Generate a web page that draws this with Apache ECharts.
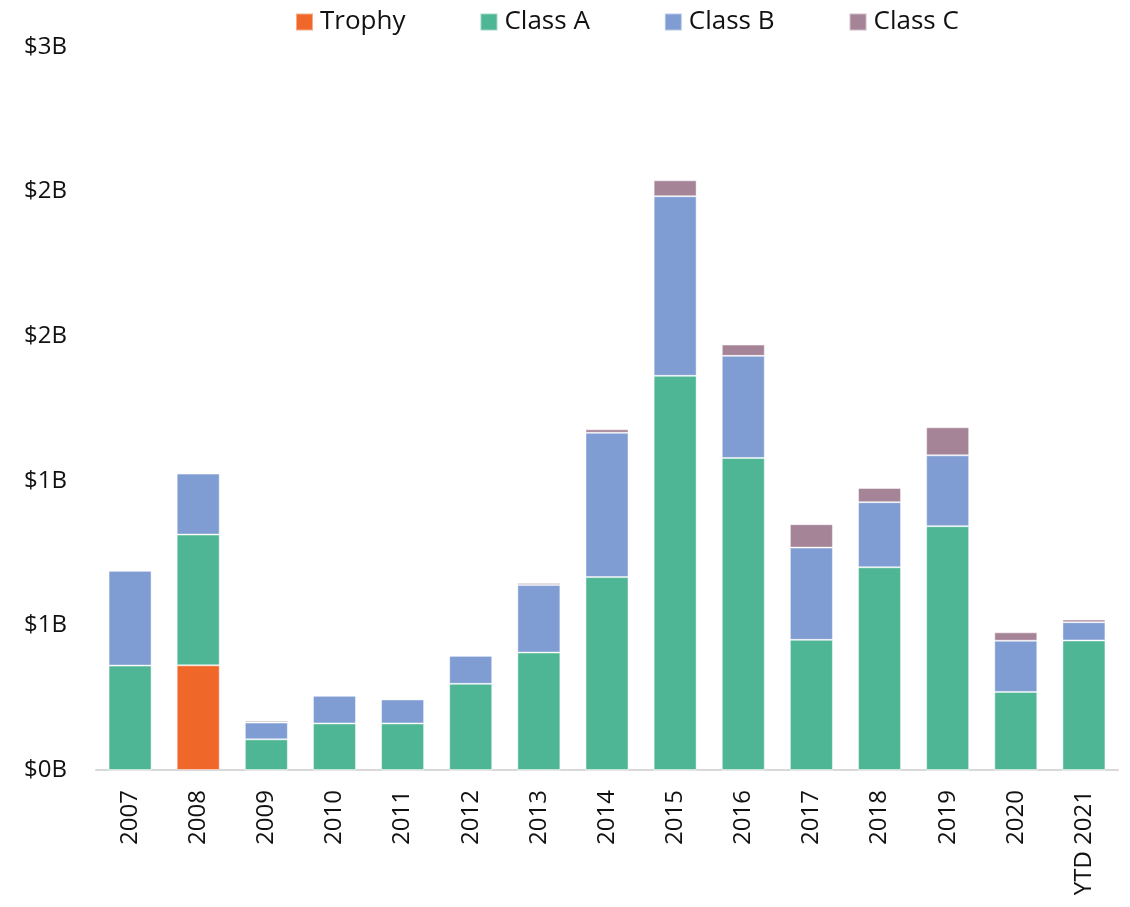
<!DOCTYPE html>
<html>
<head>
<meta charset="utf-8">
<script src="https://cdn.jsdelivr.net/npm/echarts@6/dist/echarts.min.js"></script>
<style>html,body{margin:0;padding:0;background:#fff;}#c{width:1130px;height:907px;}</style>
</head>
<body>
<div id="c"></div>
<script>
// Values in billions of dollars
var categories = ['2007','2008','2009','2010','2011','2012','2013','2014','2015','2016','2017','2018','2019','2020','YTD 2021'];
var trophy = [0, 0.362, 0, 0, 0, 0, 0, 0, 0, 0, 0, 0, 0, 0, 0];
var classA = [0.361, 0.452, 0.106, 0.161, 0.161, 0.298, 0.406, 0.667, 1.363, 1.079, 0.450, 0.701, 0.843, 0.270, 0.448];
var classB = [0.328, 0.211, 0.058, 0.096, 0.083, 0.097, 0.234, 0.499, 0.621, 0.353, 0.319, 0.225, 0.245, 0.177, 0.063];
var classC = [0, 0, 0.006, 0, 0, 0, 0.007, 0.012, 0.055, 0.039, 0.081, 0.049, 0.097, 0.029, 0.009];
var yTicks = {min: 0, max: 2.5, interval: 0.5};

var font = '"Open Sans", sans-serif';
var chart = echarts.init(document.getElementById('c'), null, {renderer: 'canvas'});
function s(name, data, color) {
  return {
    name: name, type: 'bar', stack: 'total', data: data, barWidth: 43,
    itemStyle: {color: color, borderColor: 'rgba(255,255,255,0.45)', borderWidth: 1},
    emphasis: {disabled: true}
  };
}
chart.setOption({
  animation: false,
  textStyle: {fontFamily: font},
  legend: {
    top: 4, left: 290, itemWidth: 17, itemHeight: 17, itemGap: 74,
    icon: 'rect',
    textStyle: {fontFamily: font, fontSize: 26, color: '#111', padding: [0,0,0,2]},
    data: ['Trophy','Class A','Class B','Class C']
  },
  grid: {left: 96, right: 12, top: 47, bottom: 137, containLabel: false},
  xAxis: {
    type: 'category', data: categories,
    axisTick: {show: false},
    axisLine: {lineStyle: {color: '#d9d9d9', width: 2}},
    axisLabel: {rotate: 90, margin: 20, fontSize: 24, color: '#111', fontFamily: font, interval: 0}
  },
  yAxis: {
    type: 'value', min: yTicks.min, max: yTicks.max, interval: yTicks.interval,
    splitLine: {show: false}, axisLine: {show: false}, axisTick: {show: false},
    axisLabel: {margin: 29, fontSize: 24, color: '#111', fontFamily: font,
      formatter: function(v){ return '$' + Math.round(v) + 'B'; }}
  },
  series: [
    s('Trophy', trophy, '#F0672A'),
    s('Class A', classA, '#4EB595'),
    s('Class B', classB, '#7F9DD2'),
    s('Class C', classC, '#A68498')
  ]
});
</script>
</body>
</html>
